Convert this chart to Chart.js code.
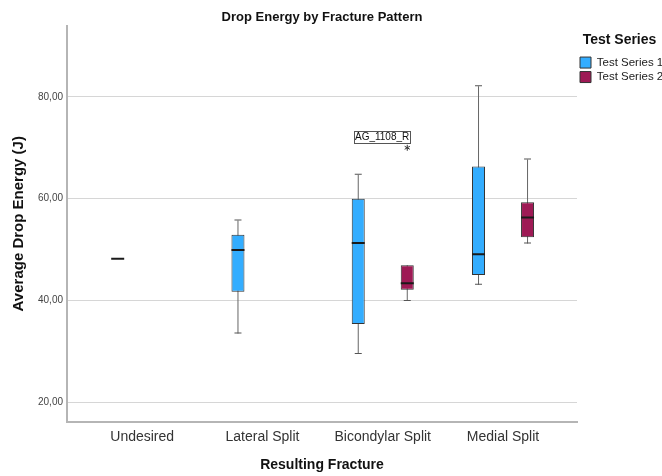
<!DOCTYPE html>
<html>
<head>
<meta charset="utf-8">
<script src="https://cdn.jsdelivr.net/npm/chart.js@4.4.1/dist/chart.umd.min.js"></script>
<style>
  html, body { margin:0; padding:0; background:#fff; }
  #wrap { position:relative; width:662px; height:476px; overflow:hidden; }
</style>
</head>
<body>
<div id="wrap"><canvas id="chart"></canvas></div>
<script>
const categories = ['Undesired', 'Lateral Split', 'Bicondylar Split', 'Medial Split'];
const seriesNames = ['Test Series 1', 'Test Series 2'];
const seriesColors = ['#33ADFF', '#9E1A55'];
const yTicks = [20, 40, 60, 80];

// five-number summaries per category, null = no cases
const s1Min = [48.0, 33.5, 29.5, 43.1];
const s1Q1  = [48.0, 41.7, 35.4, 45.0];
const s1Med = [48.0, 49.7, 51.1, 48.9];
const s1Q3  = [48.0, 52.9, 60.0, 66.3];
const s1Max = [48.0, 55.7, 64.7, 82.1];

const s2Min = [null, null, 39.9, 51.2];
const s2Q1  = [null, null, 42.1, 52.4];
const s2Med = [null, null, 43.2, 56.1];
const s2Q3  = [null, null, 46.9, 59.3];
const s2Max = [null, null, 46.9, 67.7];

// extreme values
const outlierCategory = ['Bicondylar Split'];
const outlierSeries = [1];
const outlierValues = [70.0];
const outlierLabels = ['AG_1108_R'];

const FONT = "'Liberation Sans', Arial, sans-serif";
Chart.defaults.font.family = FONT;

const stats = [
  {min: s1Min, q1: s1Q1, med: s1Med, q3: s1Q3, max: s1Max},
  {min: s2Min, q1: s2Q1, med: s2Med, q3: s2Q3, max: s2Max}
];

function points(fn){
  return categories.map((c, i) => ({x: i, y: fn(i)})).filter(p => p.y !== null);
}

function buildDatasets(){
  const sets = [];
  const common = {barPercentage: 1, categoryPercentage: 0.815};
  stats.forEach((st, s) => {
    sets.push({...common, role:'median', series:s, stack:'S'+s, order:0,
      data: points(i => st.med[i] == null ? null : [st.med[i], st.med[i]]),
      backgroundColor:'#1a1a1a', borderWidth:0, minBarLength:2, maxBarThickness:13});
  });
  stats.forEach((st, s) => {
    sets.push({...common, role:'box', series:s, label: seriesNames[s], stack:'S'+s, order:1,
      data: points(i => (st.q1[i] == null || st.q1[i] === st.q3[i]) ? null : [st.q1[i], st.q3[i]]),
      backgroundColor: seriesColors[s], borderColor:'#333', borderWidth:1, borderSkipped:false,
      maxBarThickness:13});
  });
  stats.forEach((st, s) => {
    sets.push({...common, role:'cap', series:s, stack:'S'+s, order:2,
      data: points(i => (st.max[i] == null || st.max[i] === st.q3[i]) ? null : [st.max[i], st.max[i]]),
      backgroundColor:'#555', borderWidth:0, minBarLength:1, maxBarThickness:7});
    sets.push({...common, role:'cap', series:s, stack:'S'+s, order:2,
      data: points(i => (st.min[i] == null || st.min[i] === st.q1[i]) ? null : [st.min[i], st.min[i]]),
      backgroundColor:'#555', borderWidth:0, minBarLength:1, maxBarThickness:7});
  });
  stats.forEach((st, s) => {
    sets.push({...common, role:'whisker', series:s, stack:'S'+s, order:3,
      data: points(i => (st.min[i] == null || st.min[i] === st.max[i]) ? null : [st.min[i], st.max[i]]),
      backgroundColor:'#666', borderWidth:0, maxBarThickness:1});
  });
  return sets;
}

const outlierPlugin = {
  id: 'outliers',
  afterDatasetsDraw(chart){
    const ctx = chart.ctx;
    const yScale = chart.scales.y;
    outlierValues.forEach((v, k) => {
      const ci = categories.indexOf(outlierCategory[k]);
      const dsIndex = chart.data.datasets.findIndex(d => d.role === 'box' && d.series === outlierSeries[k]);
      const pIndex = chart.data.datasets[dsIndex].data.findIndex(p => p.x === ci);
      const el = chart.getDatasetMeta(dsIndex).data[pIndex];
      if(!el) return;
      const x = el.x, y = yScale.getPixelForValue(v);
      ctx.save();
      ctx.strokeStyle = '#333';
      ctx.lineWidth = 1;
      ctx.beginPath();
      for(let a = 0; a < 3; a++){
        const ang = Math.PI / 2 + a * Math.PI / 3;
        ctx.moveTo(x + 3 * Math.cos(ang), y - 3 * Math.sin(ang));
        ctx.lineTo(x - 3 * Math.cos(ang), y + 3 * Math.sin(ang));
      }
      ctx.stroke();
      ctx.font = '10px ' + FONT;
      const w = ctx.measureText(outlierLabels[k]).width;
      const right = x + 3, bottom = y - 5, h = 12;
      const left = right - w - 2;
      ctx.fillStyle = '#fff';
      ctx.fillRect(left, bottom - h, w + 2, h);
      ctx.strokeStyle = '#555';
      ctx.strokeRect(Math.round(left) + 0.5, Math.round(bottom - h) + 0.5, Math.round(w + 2), h);
      ctx.fillStyle = '#111';
      ctx.textAlign = 'left';
      ctx.textBaseline = 'middle';
      ctx.fillText(outlierLabels[k], left + 1, bottom - h / 2 + 0.5);
      ctx.restore();
    });
  }
};

new Chart(document.getElementById('chart'), {
  type: 'bar',
  data: { datasets: buildDatasets() },
  plugins: [outlierPlugin],
  options: {
    responsive: true,
    maintainAspectRatio: false,
    animation: false,
    events: [],
    layout: { padding: 0 },
    plugins: {
      title: {
        display: true, text: 'Drop Energy by Fracture Pattern', fullSize: false,
        color: '#111', font: {size: 13, weight: 'bold'}, padding: {top: 10, bottom: 0}
      },
      legend: {
        position: 'right', align: 'start', maxWidth: 85,
        title: {
          display: true, text: 'Test Series', position: 'center', color: '#111',
          font: {size: 14, weight: 'bold'}, padding: {top: 33, bottom: 4}
        },
        labels: {
          boxWidth: 11, boxHeight: 11, padding: 3, color: '#222', font: {size: 11.5},
          filter: (item, data) => data.datasets[item.datasetIndex].role === 'box'
        }
      },
      tooltip: { enabled: false }
    },
    scales: {
      x: {
        type: 'linear', min: -0.625, max: 3.615, offset: false,
        grid: { display: false, drawTicks: false },
        border: { display: true, color: '#b5b5b5', width: 2 },
        afterBuildTicks: axis => { axis.ticks = categories.map((c, i) => ({value: i})); },
        ticks: {
          callback: v => categories[v] ?? '', padding: 7, color: '#333',
          font: {size: 14}, maxRotation: 0, autoSkip: false
        },
        title: {
          display: true, text: 'Resulting Fracture', color: '#111',
          font: {size: 14, weight: 'bold'}, padding: {top: 4, bottom: 2.5}
        }
      },
      y: {
        min: 16.15, max: 94, stacked: false,
        grid: { color: '#d6d6d6', drawTicks: false, lineWidth: 1 },
        border: { color: '#b5b5b5', width: 2 },
        afterBuildTicks: axis => { axis.ticks = yTicks.map(v => ({value: v})); },
        ticks: {
          callback: v => v.toFixed(2).replace('.', ','), padding: 4,
          color: '#444', font: {size: 10}
        },
        title: {
          display: true, text: 'Average Drop Energy (J)', color: '#111',
          font: {size: 15, weight: 'bold'}, padding: {top: 10, bottom: 6}
        }
      }
    }
  }
});
</script>
</body>
</html>
